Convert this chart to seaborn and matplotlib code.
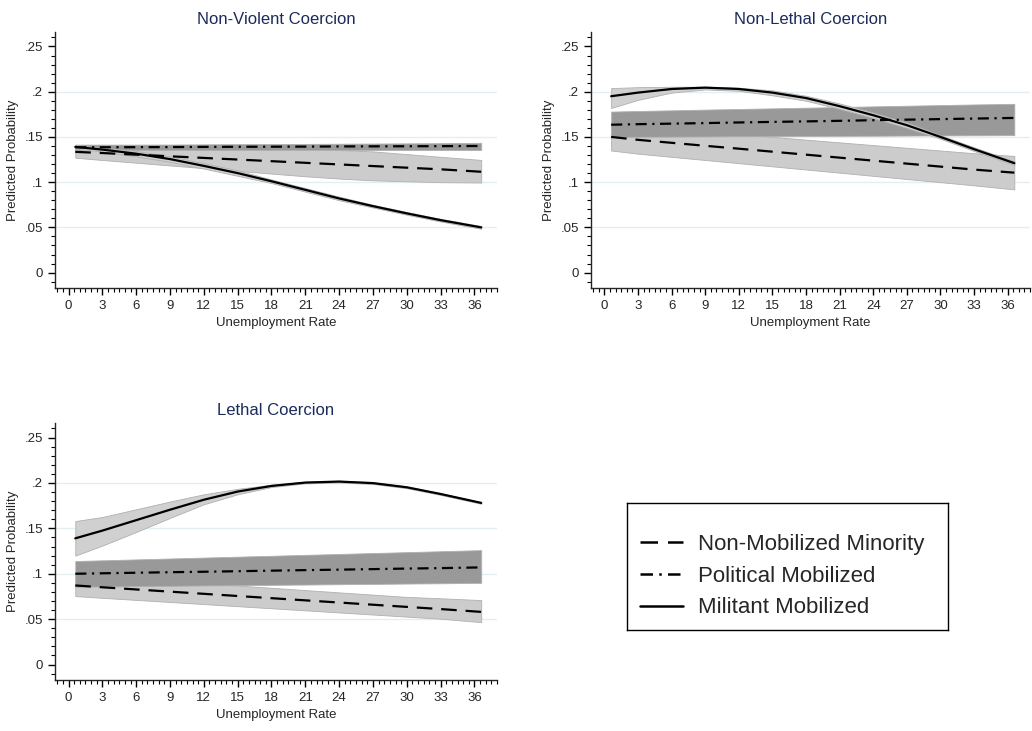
import numpy as np
import pandas as pd
import matplotlib.pyplot as plt
import seaborn as sns
from matplotlib.lines import Line2D
from matplotlib.ticker import MultipleLocator

# unemployment rate grid
x = [0.6, 3, 6, 9, 12, 15, 18, 21, 24, 27, 30, 33, 36.6]

# Non-Violent Coercion
nv_non = [0.1335, 0.1322, 0.1304, 0.1286, 0.1268, 0.1250, 0.1232, 0.1214, 0.1196, 0.1178, 0.1160, 0.1142, 0.1115]
nv_non_lo = [0.127, 0.1245, 0.1215, 0.1185, 0.1155, 0.1125, 0.1095, 0.1065, 0.1040, 0.1020, 0.1010, 0.1000, 0.0996]
nv_non_hi = [0.140, 0.1395, 0.1390, 0.1385, 0.1380, 0.1375, 0.1370, 0.1365, 0.1355, 0.1340, 0.1310, 0.1280, 0.1246]
nv_pol = [0.1385, 0.1386, 0.1387, 0.1388, 0.1390, 0.1391, 0.1392, 0.1393, 0.1395, 0.1396, 0.1397, 0.1398, 0.1400]
nv_pol_lo = [0.1355, 0.1355, 0.1355, 0.1355, 0.1355, 0.1355, 0.1355, 0.1355, 0.1355, 0.1355, 0.1355, 0.1355, 0.1355]
nv_pol_hi = [0.1415, 0.1415, 0.1415, 0.1416, 0.1418, 0.1420, 0.1421, 0.1423, 0.1425, 0.1427, 0.1429, 0.1431, 0.1435]
nv_mil = [0.139, 0.136, 0.1315, 0.1255, 0.118, 0.110, 0.101, 0.0915, 0.082, 0.0735, 0.0655, 0.058, 0.050]
nv_mil_lo = [0.137, 0.134, 0.1285, 0.1225, 0.115, 0.107, 0.099, 0.0895, 0.080, 0.072, 0.064, 0.0565, 0.0485]
nv_mil_hi = [0.141, 0.138, 0.1345, 0.1285, 0.121, 0.113, 0.103, 0.0935, 0.084, 0.075, 0.067, 0.0595, 0.0515]

# Non-Lethal Coercion
nl_non = [0.150, 0.1468, 0.1435, 0.1402, 0.1370, 0.1337, 0.1304, 0.1271, 0.1238, 0.1205, 0.1172, 0.1139, 0.1105]
nl_non_lo = [0.135, 0.1315, 0.1280, 0.1245, 0.1210, 0.1175, 0.1140, 0.1105, 0.1070, 0.1035, 0.1000, 0.0965, 0.0920]
nl_non_hi = [0.165, 0.1620, 0.1590, 0.1560, 0.1530, 0.1500, 0.1470, 0.1440, 0.1410, 0.1380, 0.1350, 0.1320, 0.1290]
nl_pol = [0.1635, 0.1641, 0.1647, 0.1653, 0.1660, 0.1666, 0.1672, 0.1678, 0.1685, 0.1691, 0.1697, 0.1703, 0.1710]
nl_pol_lo = [0.1500, 0.1502, 0.1503, 0.1505, 0.1507, 0.1508, 0.1510, 0.1512, 0.1513, 0.1515, 0.1517, 0.1518, 0.1520]
nl_pol_hi = [0.1780, 0.1787, 0.1794, 0.1802, 0.1809, 0.1816, 0.1823, 0.1830, 0.1838, 0.1845, 0.1852, 0.1859, 0.1866]
nl_mil = [0.195, 0.199, 0.203, 0.2045, 0.203, 0.199, 0.193, 0.184, 0.174, 0.163, 0.150, 0.1365, 0.121]
nl_mil_lo = [0.182, 0.191, 0.199, 0.2025, 0.201, 0.196, 0.190, 0.181, 0.171, 0.160, 0.148, 0.1345, 0.119]
nl_mil_hi = [0.204, 0.205, 0.2055, 0.2055, 0.2045, 0.2015, 0.1955, 0.187, 0.177, 0.166, 0.152, 0.1385, 0.123]

# Lethal Coercion
le_non = [0.0871, 0.0851, 0.0827, 0.0803, 0.0779, 0.0755, 0.0731, 0.0707, 0.0683, 0.0659, 0.0635, 0.0611, 0.0580]
le_non_lo = [0.0754, 0.0735, 0.0712, 0.0689, 0.0666, 0.0643, 0.0620, 0.0597, 0.0574, 0.0551, 0.0528, 0.0505, 0.0467]
le_non_hi = [0.0990, 0.0970, 0.0945, 0.0920, 0.0895, 0.0870, 0.0845, 0.0820, 0.0795, 0.0770, 0.0745, 0.0730, 0.0710]
le_pol = [0.1000, 0.1005, 0.1011, 0.1017, 0.1022, 0.1028, 0.1034, 0.1040, 0.1045, 0.1051, 0.1057, 0.1062, 0.1070]
le_pol_lo = [0.0857, 0.0860, 0.0864, 0.0867, 0.0871, 0.0874, 0.0878, 0.0881, 0.0885, 0.0888, 0.0892, 0.0895, 0.0900]
le_pol_hi = [0.1140, 0.1148, 0.1158, 0.1168, 0.1178, 0.1188, 0.1198, 0.1208, 0.1218, 0.1228, 0.1238, 0.1248, 0.1260]
le_mil = [0.139, 0.1475, 0.159, 0.1705, 0.1815, 0.1905, 0.1967, 0.2004, 0.2015, 0.1998, 0.1952, 0.1878, 0.178]
le_mil_lo = [0.120, 0.131, 0.146, 0.1615, 0.1765, 0.1875, 0.1955, 0.1995, 0.2005, 0.1988, 0.1942, 0.1868, 0.177]
le_mil_hi = [0.158, 0.1625, 0.171, 0.1795, 0.1875, 0.1935, 0.198, 0.2013, 0.2025, 0.2008, 0.1962, 0.1888, 0.179]

titles = ['Non-Violent Coercion', 'Non-Lethal Coercion', 'Lethal Coercion']
labels = ['Non-Mobilized Minority', 'Political Mobilized', 'Militant Mobilized']
y_ticks = [0, 0.05, 0.1, 0.15, 0.2, 0.25]
y_ticklabels = ['0', '.05', '.1', '.15', '.2', '.25']

panels = [
    [(nv_non, nv_non_lo, nv_non_hi), (nv_pol, nv_pol_lo, nv_pol_hi), (nv_mil, nv_mil_lo, nv_mil_hi)],
    [(nl_non, nl_non_lo, nl_non_hi), (nl_pol, nl_pol_lo, nl_pol_hi), (nl_mil, nl_mil_lo, nl_mil_hi)],
    [(le_non, le_non_lo, le_non_hi), (le_pol, le_pol_lo, le_pol_hi), (le_mil, le_mil_lo, le_mil_hi)],
]

sns.set_style('ticks')
plt.rcParams['font.family'] = ['Liberation Sans Narrow', 'Liberation Sans', 'DejaVu Sans']

band_colors = ['#cccccc', '#999999', '#d0d0d0']
line_styles = [(0, (7, 4)), (0, (5, 2.5, 1, 2.5)), '-']

fig = plt.figure(figsize=(10.32, 7.31), dpi=100)
W, H = 1032, 731
boxes = [(55, 32, 497, 288), (591, 32, 1030, 288), (55, 423, 497, 680)]

for (l, t, r, b), title, series in zip(boxes, titles, panels):
    ax = fig.add_axes([l / W, 1 - b / H, (r - l) / W, (b - t) / H])
    for k, (mid, lo, hi) in enumerate(series):
        ax.fill_between(x, lo, hi, color=band_colors[k], edgecolor='#b0b0b0', linewidth=0.6, zorder=1 + k)
    for k, (mid, lo, hi) in enumerate(series):
        df = pd.DataFrame({'x': x, 'y': mid})
        sns.lineplot(data=df, x='x', y='y', ax=ax, color='black', linewidth=1.6,
                     linestyle=line_styles[k], zorder=5)
    ax.set_xlim(-1.2, 38)
    ax.set_ylim(-0.017, 0.266)
    ax.set_xticks(range(0, 37, 3))
    ax.xaxis.set_minor_locator(MultipleLocator(0.5))
    ax.set_yticks(y_ticks)
    ax.set_yticklabels(y_ticklabels)
    ax.yaxis.set_minor_locator(MultipleLocator(0.01))
    for yv in [0.05, 0.1, 0.15, 0.2]:
        ax.axhline(yv, color='#e2eef2', linewidth=1.0, zorder=0)
    ax.tick_params(axis='both', which='major', length=5, width=1, labelsize=9.5, color='black')
    ax.tick_params(axis='both', which='minor', length=3, width=0.8, color='black')
    ax.set_xlabel('Unemployment Rate', fontsize=9.5)
    ax.set_ylabel('Predicted Probability', fontsize=9.5)
    ax.set_title(title, fontsize=12, color='#1c2b5a', pad=6)
    sns.despine(ax=ax)
    ax.spines['left'].set_linewidth(1)
    ax.spines['bottom'].set_linewidth(1)

# legend box
lax = fig.add_axes([627 / W, 1 - 630 / H, 321 / W, 127 / H])
lax.set_xticks([])
lax.set_yticks([])
for s in lax.spines.values():
    s.set_visible(True)
    s.set_color('black')
    s.set_linewidth(1)
handles = [Line2D([0], [0], color='black', linewidth=1.8, linestyle=ls) for ls in line_styles]
lax.legend(handles, labels, loc='center left', bbox_to_anchor=(-0.022, 0.424), frameon=False,
           fontsize=16, handlelength=1.95, labelspacing=0.48, handletextpad=0.65)

fig.savefig('out.png', dpi=100)
